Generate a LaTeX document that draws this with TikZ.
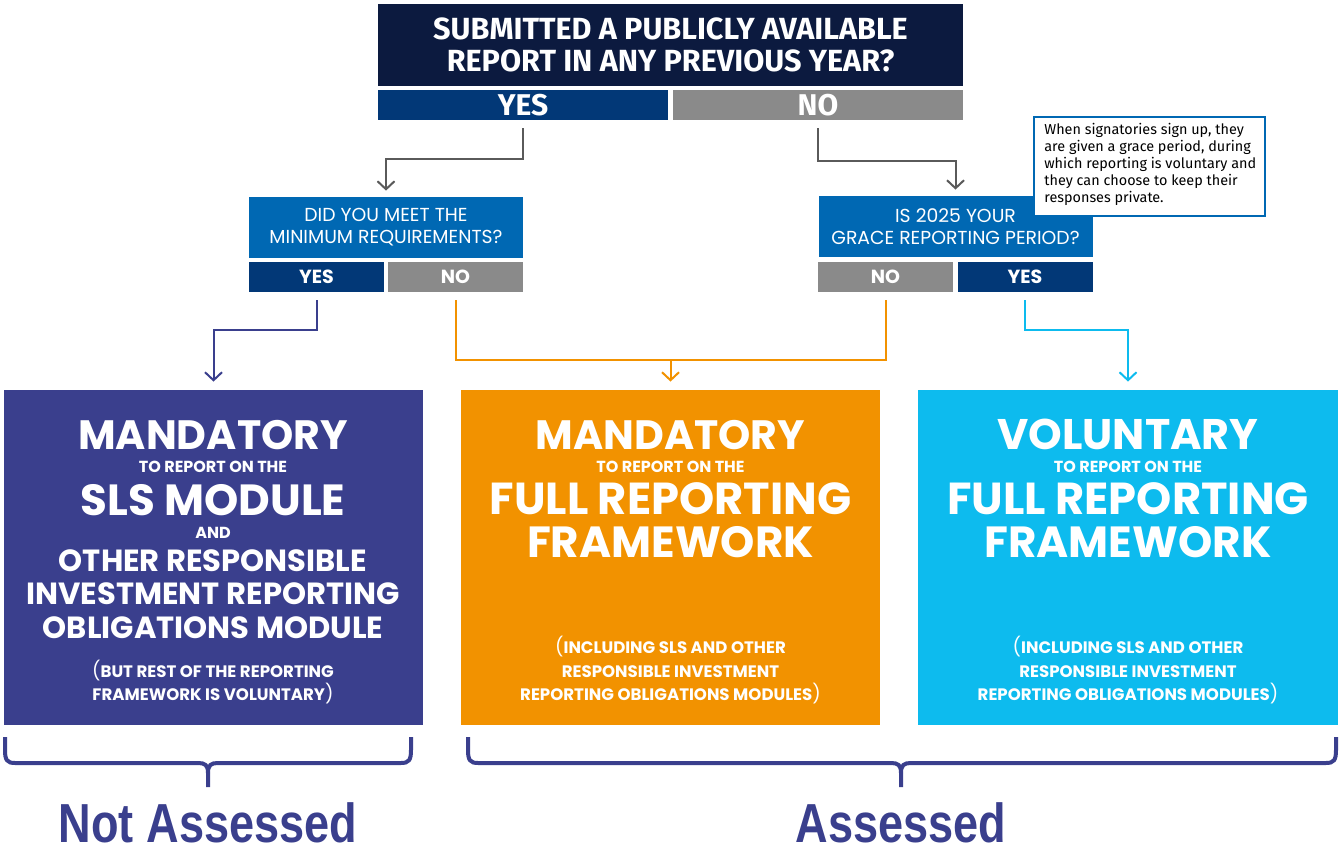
\documentclass[tikz,border=0pt]{standalone}
\usepackage{fontspec}
\usetikzlibrary{arrows.meta,positioning}
\newfontfamily\geofont{Poppins}
\newfontfamily\humfont{Fira Sans}
\newfontfamily\narrowfont[FakeStretch=0.82]{Liberation Sans}
\definecolor{navytop}{HTML}{0C1A3F}
\definecolor{yesblue}{HTML}{023877}
\definecolor{nogray}{HTML}{8A8A8A}
\definecolor{qblue}{HTML}{0068B3}
\definecolor{linegray}{HTML}{5A5A5A}
\definecolor{slspurple}{HTML}{3A3F8D}
\definecolor{fullorange}{HTML}{F29200}
\definecolor{volcyan}{HTML}{0DBBEE}
\tikzset{
  topq/.style={fill=navytop,text=white,inner sep=0pt,minimum width=292.5pt,minimum height=41pt,align=center,font=\humfont\bfseries\fontsize{15.3}{16.2}\selectfont},
  bigbar/.style={inner sep=0pt,minimum width=145pt,minimum height=15pt,text=white,font=\humfont\bfseries\fontsize{15}{16}\selectfont},
  qbox/.style={fill=qblue,text=white,inner sep=0pt,minimum width=137pt,minimum height=30.5pt,align=center,font=\geofont\fontsize{9.4}{11}\selectfont},
  smallbar/.style={inner sep=0pt,minimum width=67.5pt,minimum height=15pt,text=white,font=\geofont\bfseries\fontsize{9.5}{10}\selectfont},
  outbox/.style={inner sep=0pt,minimum width=209.5pt,minimum height=167.5pt},
  huge/.style={text=white,anchor=base,inner sep=0pt,font=\geofont\bfseries\fontsize{#1}{22}\selectfont},
  huge/.default=20.5,
  mid/.style={text=white,anchor=base,inner sep=0pt,font=\geofont\bfseries\fontsize{15.3}{16}\selectfont},
  tiny/.style={text=white,anchor=base,inner sep=0pt,font=\geofont\bfseries\fontsize{8}{8}\selectfont},
  paren/.style={text=white,anchor=base,inner sep=0pt,font=\geofont\bfseries\fontsize{8.3}{8}\selectfont},
  conn/.style={line width=1pt,-{Straight Barb[length=4pt,width=8.5pt,line width=1pt]}},
  brace/.style={slspurple,line width=2pt},
  verdict/.style={slspurple,anchor=base,inner sep=0pt,text depth=0pt,font=\narrowfont\bfseries\fontsize{27.5}{30}\selectfont}
}
\newcommand{\lp}{{\mdseries\fontsize{9.3}{8}\selectfont(}}
\newcommand{\rp}{{\mdseries\fontsize{9.3}{8}\selectfont)}}
\begin{document}
\begin{tikzpicture}[x=0.5pt,y=-0.5pt]
\useasboundingbox (0,0) rectangle (1339,851);
% first question
\node[topq] (q0) at (670.5,45) {SUBMITTED A PUBLICLY AVAILABLE\\REPORT IN ANY PREVIOUS YEAR?};
\node[bigbar,fill=yesblue] (q0yes) at (523,105) {YES};
\node[bigbar,fill=nogray] (q0no) at (818,105) {NO};
% second row questions
\node[qbox] (q1) at (386,227.5) {DID YOU MEET THE\\MINIMUM REQUIREMENTS?};
\node[smallbar,fill=yesblue] (q1yes) at (316.5,277) {YES};
\node[smallbar,fill=nogray] (q1no) at (455.5,277) {NO};
\node[qbox] (q2) at (955.5,226.5) {IS 2025 YOUR\\GRACE REPORTING PERIOD?};
\node[smallbar,fill=nogray] (q2no) at (885.5,277) {NO};
\node[smallbar,fill=yesblue] (q2yes) at (1025,277) {YES};
\node[draw=qblue,line width=1pt,fill=white,minimum width=115.5pt,minimum height=49.5pt,inner sep=0pt] (note) at (1149.5,166.5) {};
\node[anchor=north west,inner sep=0pt,align=left,font=\humfont\fontsize{7.2}{8.5}\selectfont] (notetext) at (1044,123)
  {When signatories sign up, they\\are given a grace period, during\\which reporting is voluntary and\\they can choose to keep their\\responses private.};
% outcomes
\node[outbox,fill=slspurple] (out1) at (213.5,557.5) {};
\node[outbox,fill=fullorange] (out2) at (670.5,557.5) {};
\node[outbox,fill=volcyan,minimum width=210pt] (out3) at (1128,557.5) {};
\node[huge] (o1a) at (213,449) {MANDATORY};
\node[tiny] (o1b) at (213,472) {TO REPORT ON THE};
\node[huge=21.8] (o1c) at (213,515) {SLS MODULE};
\node[tiny] (o1d) at (213,538) {AND};
\node[mid] (o1e) at (213,571) {OTHER RESPONSIBLE};
\node[mid] (o1f) at (213,604) {INVESTMENT REPORTING};
\node[mid] (o1g) at (213,638) {OBLIGATIONS MODULE};
\node[paren] (o1h) at (213,677) {\lp BUT REST OF THE REPORTING};
\node[paren] (o1i) at (213,700) {FRAMEWORK IS VOLUNTARY\rp};
\node[huge] (o2a) at (670.5,449) {MANDATORY};
\node[tiny] (o2b) at (670.5,472) {TO REPORT ON THE};
\node[huge=22.4] (o2c) at (670.5,514) {FULL REPORTING};
\node[huge=21.8] (o2d) at (670.5,557) {FRAMEWORK};
\node[paren] (o2e) at (670.5,653) {\lp INCLUDING SLS AND OTHER};
\node[paren] (o2f) at (670.5,677) {RESPONSIBLE INVESTMENT};
\node[paren] (o2g) at (670.5,700) {REPORTING OBLIGATIONS MODULES\rp};
\node[huge=21.4] (o3a) at (1128,449) {VOLUNTARY};
\node[tiny] (o3b) at (1128,472) {TO REPORT ON THE};
\node[huge=22.4] (o3c) at (1128,514) {FULL REPORTING};
\node[huge=21.8] (o3d) at (1128,557) {FRAMEWORK};
\node[paren] (o3e) at (1128,653) {\lp INCLUDING SLS AND OTHER};
\node[paren] (o3f) at (1128,677) {RESPONSIBLE INVESTMENT};
\node[paren] (o3g) at (1128,700) {REPORTING OBLIGATIONS MODULES\rp};
% connectors
\draw[conn,linegray] ([yshift=-4pt]q0yes.south) |- ([yshift=19pt]q1.north) -- ([yshift=3pt]q1.north);
\draw[conn,linegray] ([yshift=-4pt]q0no.south) |- ([yshift=17.5pt]q2.north) -- ([yshift=3pt]q2.north);
\draw[conn,slspurple] ([yshift=-4pt]q1yes.south) |- ([yshift=30pt]out1.north) -- ([yshift=4pt]out1.north);
\draw[line width=1pt,fullorange] ([yshift=-4pt]q1no.south) |- ([yshift=-34pt]q2no.south) -- ([yshift=-4pt]q2no.south);
\draw[conn,fullorange] ([yshift=15pt]out2.north) -- ([yshift=4pt]out2.north);
\draw[conn,volcyan] ([yshift=-4pt]q2yes.south) |- ([yshift=30pt]out3.north) -- ([yshift=4pt]out3.north);
% braces
\draw[brace] (5,737) -- (5,750) .. controls (5,760) and (7,763) .. (15,763) -- (198,763) .. controls (205,763) and (208,765) .. (208,773) -- (208,787);
\draw[brace] (208,773) .. controls (208,765) and (211,763) .. (218,763) -- (401,763) .. controls (409,763) and (411,760) .. (411,750) -- (411,737);
\draw[brace] (468,737) -- (468,750) .. controls (468,760) and (470,763) .. (478,763) -- (891,763) .. controls (898,763) and (901,765) .. (901,773) -- (901,787);
\draw[brace] (901,773) .. controls (901,765) and (904,763) .. (911,763) -- (1326,763) .. controls (1334,763) and (1336,760) .. (1336,750) -- (1336,737);
\node[verdict] (notass) at (208,842) {Not Assessed};
\node[verdict] (ass) at (901,842) {Assessed};
\end{tikzpicture}
\end{document}
